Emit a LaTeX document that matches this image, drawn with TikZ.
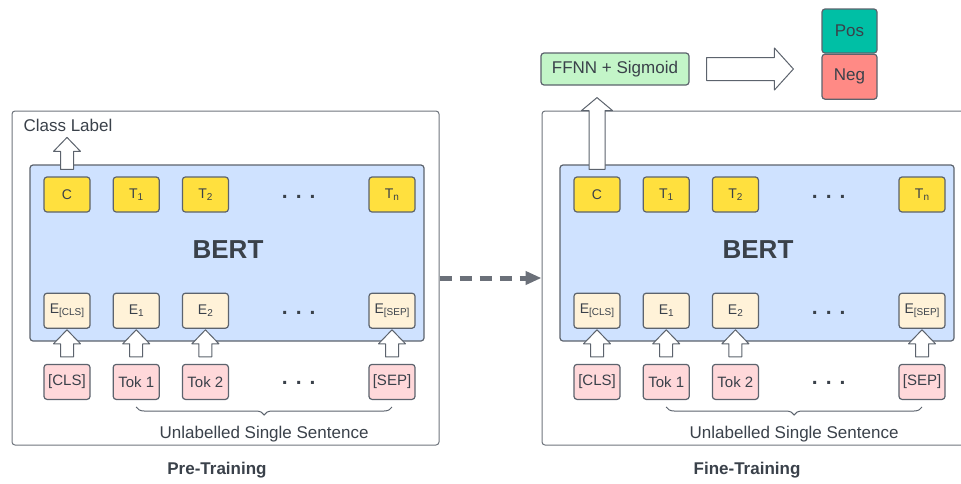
\documentclass[tikz,border=0pt]{standalone}
\usepackage{fontspec}
\setmainfont{Liberation Sans}
\usetikzlibrary{calc,positioning,arrows.meta,decorations.pathreplacing}

\definecolor{inkgray}{HTML}{3A414A}
\definecolor{framegray}{HTML}{6E747C}
\definecolor{edgegray}{HTML}{5C636D}
\definecolor{dashgray}{HTML}{6B7079}
\definecolor{bertblue}{HTML}{CFE2FF}
\definecolor{tyellow}{HTML}{FFE03E}
\definecolor{ecream}{HTML}{FFF2D8}
\definecolor{tokpink}{HTML}{FFD8DA}
\definecolor{ffgreen}{HTML}{C3F5C8}
\definecolor{posteal}{HTML}{00BFA5}
\definecolor{negred}{HTML}{FF8A85}

\newcommand{\lowidx}[1]{\raisebox{-2.5pt}{\fontsize{10}{10}\selectfont #1}}

\begin{document}
\begin{tikzpicture}[
    x=1pt, y=-1pt,
    every node/.style={text=inkgray, font=\fontsize{17}{20}\selectfont},
    panel/.style={draw=framegray, line width=1pt, rounded corners=3pt,
        minimum width=427pt, minimum height=334pt},
    bertbox/.style={draw=edgegray, fill=bertblue, line width=1.2pt,
        rounded corners=3pt, minimum width=394pt, minimum height=176pt},
    cell/.style={draw=edgegray, line width=1.2pt, rounded corners=3pt,
        minimum width=46pt, minimum height=35pt, inner sep=0pt,
        font=\fontsize{14}{16}\selectfont},
    outcell/.style={cell, fill=tyellow},
    embcell/.style={cell, fill=ecream},
    tokcell/.style={cell, fill=tokpink, font=\fontsize{15}{17}\selectfont},
    ellip/.style={inner sep=0pt, font=\fontsize{21}{24}\selectfont\bfseries},
    fatarrow/.style={draw=edgegray, fill=white, line width=1pt, line join=round},
    blockarr/.style n args={3}{
        to path={
            let \p1=(\tikztostart), \p2=(\tikztotarget),
                \p3=($(\p2)!#3!(\p1)$)
            in ($(\p1)!#1!90:(\p2)$) -- ($(\p3)!#1!90:(\p2)$)
               -- ($(\p3)!#2!90:(\p2)$) -- (\p2)
               -- ($(\p3)!#2!-90:(\p2)$) -- ($(\p3)!#1!-90:(\p2)$)
               -- ($(\p1)!#1!-90:(\p2)$) -- cycle
        }
    },
    classbox/.style={draw=edgegray, line width=1.2pt, rounded corners=3pt,
        minimum width=55pt, minimum height=44pt, inner sep=0pt}
]
\clip (0,0) rectangle (961,483);

% the two training stages share one layout
\foreach \p/\ox/\stage in {L/0/Pre-Training, R/530/Fine-Training}{
\begin{scope}[xshift=\ox]
    \node[panel] (\p-frame) at (225.5,278) {};
    \node[bertbox] (\p-bert) at (227,253) {};
    \node[font=\fontsize{26}{30}\selectfont\bfseries] (\p-name) at (228,250) {BERT};

    % output row
    \node[outcell] (\p-C) at (67,194.5) {C};
    \node[outcell, right=22pt of \p-C] (\p-T1) {T\lowidx{1}};
    \node[outcell, right=22pt of \p-T1] (\p-T2) {T\lowidx{2}};
    \node[outcell] (\p-Tn) at (392,194.5) {T\lowidx{n}};

    % embedding row
    \node[embcell, below=80pt of \p-C] (\p-Ecls) {E\lowidx{[CLS]}};
    \node[embcell, below=80pt of \p-T1] (\p-E1) {E\lowidx{1}};
    \node[embcell, below=80pt of \p-T2] (\p-E2) {E\lowidx{2}};
    \node[embcell, below=80pt of \p-Tn] (\p-Esep) {E\lowidx{[SEP]}};

    % token row
    \node[tokcell, below=35pt of \p-Ecls] (\p-Kcls) {[CLS]};
    \node[tokcell, below=35pt of \p-E1] (\p-K1) {Tok 1};
    \node[tokcell, below=35pt of \p-E2] (\p-K2) {Tok 2};
    \node[tokcell, below=35pt of \p-Esep] (\p-Ksep) {[SEP]};

    % ellipses
    \node[ellip] (\p-dT) at ($(\p-T2)!0.5!(\p-Tn)+(0,2.5)$) {.\hspace{8pt}.\hspace{8pt}.};
    \node[ellip] (\p-dE) at ($(\p-E2)!0.5!(\p-Esep)+(0,2)$) {.\hspace{8pt}.\hspace{8pt}.};
    \node[ellip] (\p-dK) at ($(\p-K2)!0.5!(\p-Ksep)+(0,1.5)$) {.\hspace{8pt}.\hspace{8pt}.};

    \foreach \a/\b in {Kcls/Ecls, K1/E1, K2/E2, Ksep/Esep}
        \draw[fatarrow, blockarr={6.5pt}{13.5pt}{14pt}]
            ([yshift=7pt]\p-\a.north) to ([yshift=-1pt]\p-\b.south);

    % sentence brace
    \draw[edgegray, line width=1pt, decorate, decoration={brace, mirror, amplitude=8pt}]
        ([yshift=-7pt]\p-K1.south) -- ([yshift=-7pt]\p-Ksep.south);
    \node (\p-sent) at ($(\p-K1.south)!0.5!(\p-Ksep.south)+(0,34)$) {Unlabelled Single Sentence};

    \node[font=\fontsize{17}{20}\selectfont\bfseries] (\p-stage) at (217,470) {\stage};
\end{scope}
}

% pre-training head
\node (L-cls) at (68,125) {Class Label};
\draw[fatarrow, blockarr={6.5pt}{13.5pt}{14pt}]
    ([yshift=7pt]L-C.north) to ([yshift=39pt]L-C.north);

% fine-tuning head
\node[draw=edgegray, fill=ffgreen, line width=1.2pt, rounded corners=3pt,
      minimum width=148pt, minimum height=32pt] (ffnn) at (615,69) {FFNN + Sigmoid};
\node[classbox, fill=posteal] (pos) at (849.5,31) {Pos};
\node[classbox, fill=negred, below=0pt of pos, minimum height=45pt] (neg) {Neg};
\draw[fatarrow, blockarr={8pt}{15.5pt}{13pt}]
    ([yshift=7pt]R-C.north) to ([yshift=-12pt]R-C.north |- ffnn.south);
\draw[fatarrow, blockarr={11.5pt}{21pt}{19pt}]
    ([xshift=17pt]ffnn.east) to ([xshift=-28pt]ffnn.east -| pos.west);

% transfer between stages
\draw[dashgray, line width=5pt, dash pattern=on 12pt off 8pt,
      -{Triangle[length=16pt,width=13pt]}] (L-frame.east) -- (R-frame.west);

\end{tikzpicture}
\end{document}
